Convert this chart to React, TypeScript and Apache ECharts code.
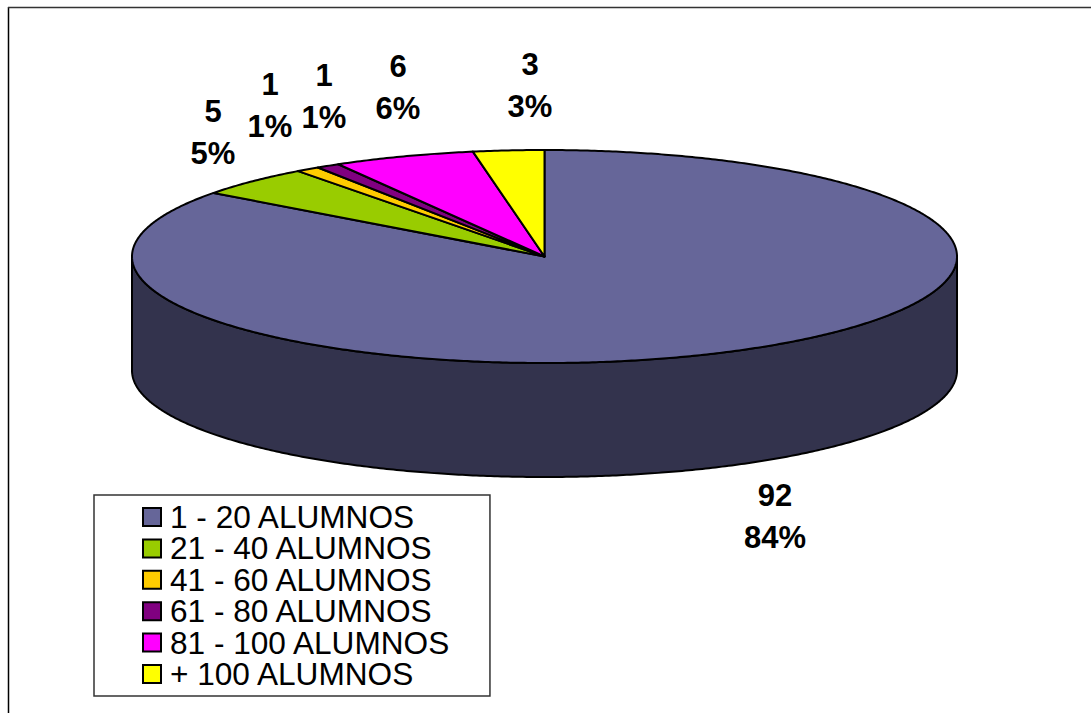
import React, { useEffect, useRef } from "react";
import * as echarts from "echarts";

const categories = [
  "1 - 20 ALUMNOS",
  "21 - 40 ALUMNOS",
  "41 - 60 ALUMNOS",
  "61 - 80 ALUMNOS",
  "81 - 100 ALUMNOS",
  "+ 100 ALUMNOS",
];
const counts = [92, 5, 1, 1, 6, 3];
const percents = [84, 5, 1, 1, 6, 3];
const topColors = ["#666699", "#99CC00", "#FFCC00", "#800080", "#FF00FF", "#FFFF00"];
const sideColors = ["#33334D", "#4D6600", "#806600", "#400040", "#800080", "#808000"];

const PIE = { cx: 544.5, cy: 256.5, rx: 412.5, ry: 106.5, depth: 114 };
const labelCenters = [
  [775, 516.5],
  [213, 132.5],
  [270, 105],
  [324, 96],
  [398, 87],
  [530, 85],
];

const total = counts.reduce((a, b) => a + b, 0);
const point = (deg: number, dy = 0): number[] => {
  const r = (deg * Math.PI) / 180;
  return [PIE.cx + PIE.rx * Math.sin(r), PIE.cy - PIE.ry * Math.cos(r) + dy];
};
const arc = (from: number, to: number, dy = 0): number[][] => {
  const pts: number[][] = [];
  const n = Math.max(2, Math.ceil(Math.abs(to - from) / 0.5));
  for (let i = 0; i <= n; i++) pts.push(point(from + ((to - from) * i) / n, dy));
  return pts;
};

export default function App() {
  const ref = useRef<HTMLDivElement>(null);
  useEffect(() => {
    const chart = echarts.init(ref.current!, undefined, { renderer: "svg" });
    let acc = 0;
    const series = categories.map((name, i) => {
      const start = (acc / total) * 360;
      acc += counts[i];
      const end = (acc / total) * 360;
      return {
        type: "custom",
        name,
        coordinateSystem: "none",
        silent: true,
        z: 2,
        itemStyle: { color: topColors[i] },
        data: [counts[i]],
        renderItem: () => {
          const children: any[] = [];
          const s = Math.max(start, 90);
          const e = Math.min(end, 270);
          if (e > s) {
            const wall = [...arc(s, e), ...arc(e, s, PIE.depth)];
            children.push({
              type: "polygon",
              shape: { points: wall },
              style: { fill: sideColors[i], stroke: "#000", lineWidth: 2, lineJoin: "round" },
            });
          }
          children.push({
            type: "polygon",
            shape: { points: [[PIE.cx, PIE.cy], ...arc(start, end)] },
            style: { fill: topColors[i], stroke: "#000", lineWidth: 2, lineJoin: "round" },
          });
          children.push({
            type: "text",
            style: {
              text: `${counts[i]}\n${percents[i]}%`,
              x: labelCenters[i][0],
              y: labelCenters[i][1],
              align: "center",
              verticalAlign: "middle",
              lineHeight: 42,
              font: 'bold 31px "Liberation Sans", Arial, sans-serif',
              fill: "#000",
            },
          });
          return { type: "group", children };
        },
      };
    });
    chart.setOption({
      animation: false,
      backgroundColor: "#fff",
      legend: {
        show: true,
        data: categories,
        orient: "vertical",
        left: 94,
        top: 495,
        padding: [6, 39, 6, 48],
        backgroundColor: "#fff",
        borderColor: "#333",
        borderWidth: 1.5,
        borderRadius: 0,
        icon: "rect",
        itemWidth: 18,
        itemHeight: 18,
        itemGap: -0.6,
        selectedMode: false,
        itemStyle: { borderColor: "#000", borderWidth: 2 },
        textStyle: {
          fontFamily: '"Liberation Sans", Arial, sans-serif',
          fontSize: 31.6,
          lineHeight: 31.4,
          color: "#000",
          padding: [0, 0, 0, 4],
        },
      },
      graphic: [
        { type: "line", silent: true, shape: { x1: 8.5, y1: 7, x2: 8.5, y2: 713 }, style: { stroke: "#000", lineWidth: 1.5 } },
        { type: "line", silent: true, shape: { x1: 8, y1: 7.5, x2: 1091, y2: 7.5 }, style: { stroke: "#333", lineWidth: 1.6 } },
      ],
      series,
    });
    return () => chart.dispose();
  }, []);
  return <div ref={ref} style={{ position: "fixed", left: 0, top: 0, width: 1091, height: 713 }} />;
}
